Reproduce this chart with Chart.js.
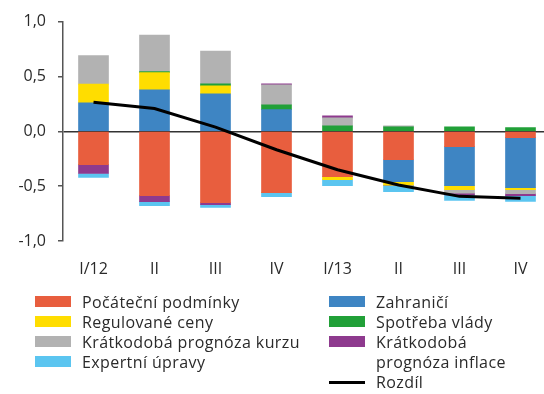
<!DOCTYPE html>
<html>
<head>
<meta charset="utf-8">
<script src="https://cdn.jsdelivr.net/npm/chart.js@4"></script>
<style>
  html, body { margin: 0; padding: 0; background: #fff; }
  #wrap { position: relative; width: 544px; height: 394px; overflow: hidden; }
  #chart { position: absolute; left: 0; top: 0; }
  .legend-col { position: absolute; top: 292px; font-family: "Open Sans", sans-serif; font-size: 16px; line-height: 20px; letter-spacing: 0.4px; color: #2a2a2a; }
  .legend-item { display: flex; align-items: flex-start; }
  .swatch { flex: none; width: 36px; height: 11px; margin-top: 4px; margin-right: 11px; }
  .swatch.line { height: 3px; margin-top: 9px; background: #000; }
  #legRight .legend-item span { max-width: 150px; }
</style>
</head>
<body>
<div id="wrap">
  <canvas id="chart" width="556" height="394"></canvas>
  <div class="legend-col" id="legLeft" style="left:35px"></div>
  <div class="legend-col" id="legRight" style="left:329px"></div>
</div>
<script>
// kvartály
const categories = ['I/12', 'II', 'III', 'IV', 'I/13', 'II', 'III', 'IV'];

// příspěvky jednotlivých faktorů (p.b.)
const pocatecniPodminky = [-0.305, -0.586, -0.65, -0.559, -0.414, -0.259, -0.14, -0.058];
const zahranici = [0.26, 0.377, 0.341, 0.198, 0, -0.2, -0.355, -0.456];
const regulovaneCeny = [0.17, 0.158, 0.073, 0, -0.027, -0.033, -0.036, -0.018];
const spotrebaVlady = [0, 0.01, 0.018, 0.043, 0.05, 0.041, 0.041, 0.033];
const prognozaKurzu = [0.26, 0.333, 0.30, 0.182, 0.073, 0.009, -0.033, -0.036];
const prognozaInflace = [-0.08, -0.055, -0.018, 0.009, 0.018, 0, -0.015, -0.018];
const expertniUpravy = [-0.035, -0.036, -0.027, -0.036, -0.054, -0.058, -0.052, -0.054];
const rozdil = [0.265, 0.207, 0.038, -0.168, -0.35, -0.49, -0.593, -0.61];

// osa y
const yTicks = [-1, -0.5, 0, 0.5, 1];

const FONT = { family: '"Open Sans", sans-serif', size: 16 };

function bar(label, data, color) {
    return { type: 'bar', label, data, backgroundColor: color, stack: 's', order: 1,
             barThickness: 30, borderWidth: 0 };
}

const ctx = document.getElementById('chart').getContext('2d');

const chart = new Chart(ctx, {
    data: {
        labels: categories,
        datasets: [
            bar('Počáteční podmínky', pocatecniPodminky, '#E85E3E'),
            bar('Zahraničí', zahranici, '#3E85C3'),
            bar('Regulované ceny', regulovaneCeny, '#FFDD00'),
            bar('Spotřeba vlády', spotrebaVlady, '#21A038'),
            bar('Krátkodobá prognóza kurzu', prognozaKurzu, '#B2B2B2'),
            bar('Krátkodobá prognóza inflace', prognozaInflace, '#8E3A8E'),
            bar('Expertní úpravy', expertniUpravy, '#5BC5F0'),
            {
                type: 'line', label: 'Rozdíl', data: rozdil, stack: 'l', order: 0,
                borderColor: '#000', borderWidth: 3, pointRadius: 0, tension: 0, fill: false
            }
        ]
    },
    options: {
        responsive: false,
        animation: false,
        layout: { padding: { top: 21, right: 5, left: 0, bottom: 0 } },
        plugins: { legend: { display: false }, tooltip: { enabled: false } },
        scales: {
            x: {
                stacked: true,
                offset: true,
                grid: { display: false, drawTicks: false },
                border: { display: false },
                ticks: { font: FONT, color: '#2a2a2a', padding: 19, maxRotation: 0 },
                afterFit: s => { s.height = 394 - 241; }
            },
            y: {
                stacked: true,
                min: -1,
                max: 1,
                afterBuildTicks: s => { s.ticks = yTicks.map(v => ({ value: v })); },
                afterFit: s => { s.width = 63; },
                grid: {
                    drawOnChartArea: true,
                    color: c => (c.tick && c.tick.value === 0) ? '#333' : 'rgba(0,0,0,0)',
                    tickColor: '#555',
                    tickLength: 5,
                    lineWidth: 1.5
                },
                border: { display: true, color: '#555', width: 1.5 },
                ticks: {
                    font: FONT, color: '#2a2a2a', padding: 12,
                    callback: v => v.toFixed(1).replace('.', ',')
                }
            }
        }
    }
});

// legenda ve dvou sloupcích (střídavě vlevo / vpravo)
const legLeft = document.getElementById('legLeft');
const legRight = document.getElementById('legRight');
chart.data.datasets.forEach((ds, i) => {
    const item = document.createElement('div');
    item.className = 'legend-item';
    const sw = document.createElement('div');
    sw.className = ds.type === 'line' ? 'swatch line' : 'swatch';
    if (ds.type !== 'line') sw.style.background = ds.backgroundColor;
    const txt = document.createElement('span');
    txt.textContent = ds.label;
    item.appendChild(sw);
    item.appendChild(txt);
    (i % 2 === 0 ? legLeft : legRight).appendChild(item);
});
</script>
</body>
</html>
